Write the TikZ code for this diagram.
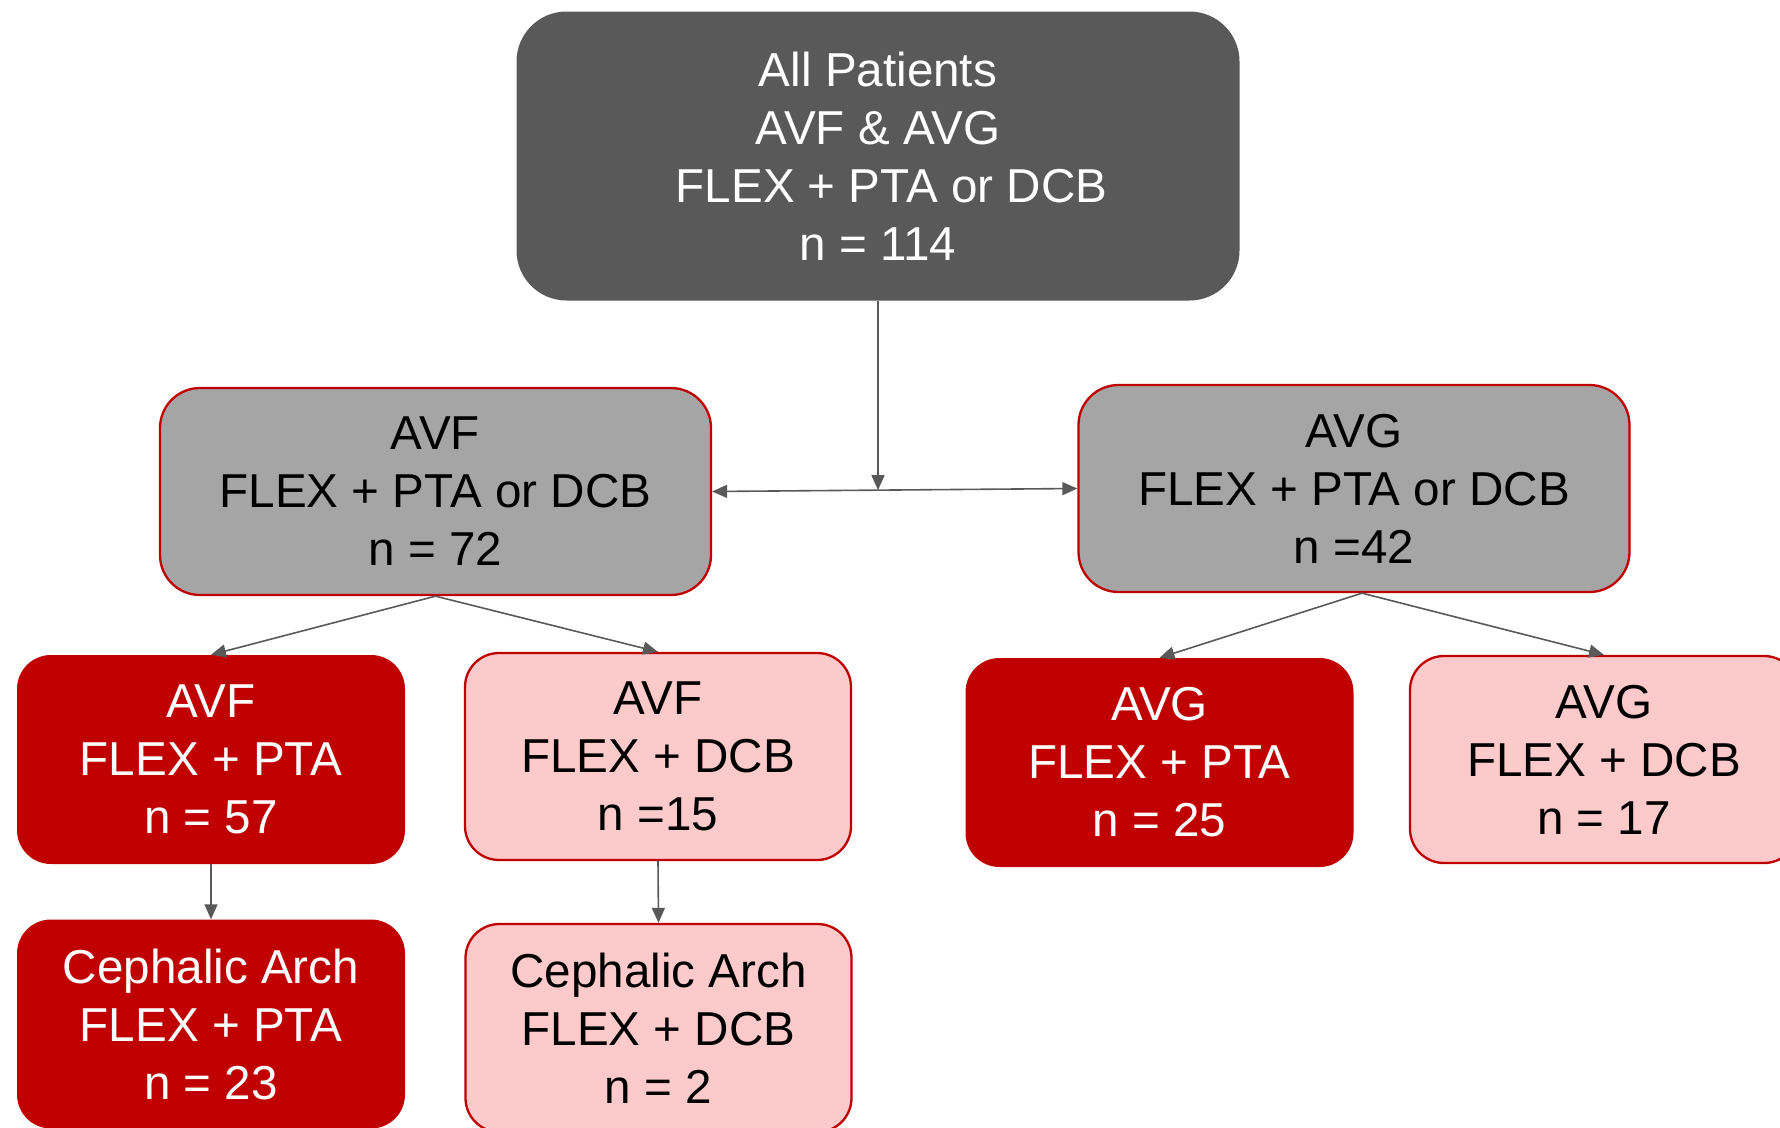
\documentclass[tikz,border=0pt]{standalone}
\usepackage{fontspec}
\setmainfont{Liberation Sans}
\usetikzlibrary{arrows.meta,calc}
\definecolor{topgray}{HTML}{595959}
\definecolor{midgray}{HTML}{A5A5A5}
\definecolor{darkred}{HTML}{C00000}
\definecolor{lightpink}{HTML}{FCCACA}
\definecolor{linegray}{HTML}{595959}
\tikzset{
  box/.style={rectangle, inner sep=0pt, align=center,
    font=\fontsize{47.6}{58}\selectfont},
  topbox/.style={box, fill=topgray, text=white, rounded corners=50pt,
    minimum width=723pt, minimum height=289pt},
  midbox/.style={box, fill=midgray, draw=darkred, line width=2.3pt,
    text=black, rounded corners=40pt, minimum width=551pt, minimum height=207pt},
  ptabox/.style={box, fill=darkred, text=white, rounded corners=34pt,
    minimum width=388pt, minimum height=209pt},
  dcbbox/.style={box, fill=lightpink, draw=darkred, line width=2.3pt,
    text=black, rounded corners=34pt, minimum width=386pt, minimum height=207pt},
  link/.style={draw=linegray, line width=1.6pt,
    -{Triangle[length=15pt,width=13pt]}},
  linkboth/.style={draw=linegray, line width=1.6pt,
    {Triangle[length=15pt,width=13pt]}-{Triangle[length=15pt,width=13pt]}}
}
\begin{document}
\begin{tikzpicture}[x=1pt,y=1pt]
\useasboundingbox (0,0) rectangle (1780,-1127);
\clip (0,0) rectangle (1780,-1127);

% root
\node[topbox] (all) at (878,-156) {All Patients\\AVF \& AVG\\\hspace*{27pt}FLEX + PTA or DCB\\n = 114};

% access type
\node[midbox] (avf) at (435.5,-491.5) {AVF\\FLEX + PTA or DCB\\n = 72};
\node[midbox] (avg) at (1354,-488.5) {AVG\\FLEX + PTA or DCB\\n =42};

% treatment arms
\node[ptabox] (avfpta) at (211,-759.5) {AVF\\FLEX + PTA\\n = 57};
\node[dcbbox] (avfdcb) at (658,-756.5) {AVF\\FLEX + DCB\\n =15};
\node[ptabox] (avgpta) at (1159.5,-762.5) {AVG\\FLEX + PTA\\n = 25};
\node[dcbbox, minimum width=388pt] (avgdcb) at (1604,-759.5) {AVG\\FLEX + DCB\\n = 17};

% cephalic arch subsets
\node[ptabox] (cephpta) at (211,-1024) {Cephalic Arch\\FLEX + PTA\\n = 23};
\node[dcbbox, minimum height=208pt] (cephdcb) at (658.5,-1028) {Cephalic Arch\\FLEX + DCB\\n = 2};

% connectors
\draw[linkboth] (avf.east) -- (avg.west);
\coordinate (junc) at ($(avf.east)!0.4535!(avg.west)$);
\draw[link] (all.south) -- (all.south |- junc);
\draw[link] (avf.south) -- (avfpta.north);
\draw[link] (avf.south) -- (avfdcb.north);
\coordinate (avgout) at ([xshift=8pt]avg.south);
\draw[link] (avgout) -- (avgpta.north);
\draw[link] (avgout) -- (avgdcb.north);
\draw[link] (avfpta.south) -- (cephpta.north);
\draw[link] (avfdcb.south) -- (cephdcb.north);
\end{tikzpicture}
\end{document}
